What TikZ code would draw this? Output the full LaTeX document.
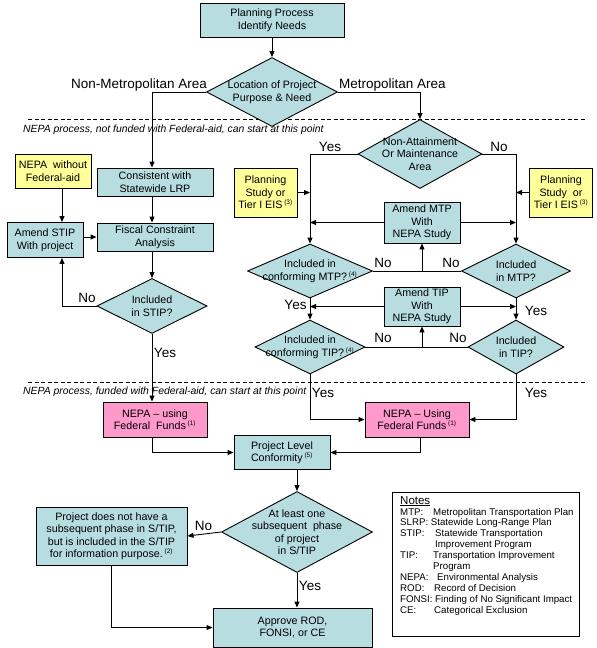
\documentclass[tikz,border=0pt]{standalone}
\usepackage{fontspec}
\setmainfont{Liberation Sans}
\usetikzlibrary{shapes.geometric,arrows.meta}
\definecolor{boxteal}{RGB}{183,221,225}
\definecolor{boxpink}{RGB}{255,153,204}
\definecolor{boxyellow}{RGB}{255,255,153}
\newcommand{\fnote}[1]{\textsuperscript{\fontsize{6.5pt}{7pt}\selectfont(#1)}}

\tikzset{
  flowbox/.style={draw=black, line width=0.9pt, fill=boxteal, align=center, inner sep=0pt, font=\fontsize{10.7pt}{12.5pt}\selectfont},
  nepabox/.style={flowbox, fill=boxpink},
  studybox/.style={flowbox, fill=boxyellow},
  decision/.style={diamond, draw=black, line width=0.9pt, fill=boxteal, inner sep=0pt},
  declabel/.style={align=center, inner sep=0pt, font=\fontsize{10.7pt}{12.5pt}\selectfont},
  branch/.style={inner sep=0pt, font=\fontsize{13.5pt}{15pt}\selectfont},
  phase/.style={inner sep=0pt, anchor=west, font=\fontsize{10.4pt}{12pt}\selectfont\itshape},
  conn/.style={line width=0.9pt, -{Triangle[length=6pt,width=5pt]}},
  plainline/.style={line width=0.9pt},
}

\begin{document}
\begin{tikzpicture}[x=1pt,y=1pt,yscale=-1,xscale=1]
\useasboundingbox (0,0) rectangle (597,648);

%Phase borders
\draw [plainline, dash pattern=on 4pt off 2.5pt] (28,119) -- (587,119);
\draw [plainline, dash pattern=on 4pt off 2.5pt] (28,382) -- (587,382);
\node [phase] (phaseA) at (23,130) {NEPA process, not funded with Federal-aid, can start at this point};
\node [phase] (phaseB) at (23,392) {NEPA process, funded with Federal-aid, can start at this point};

%Top
\node [flowbox, minimum width=144pt, minimum height=34pt] (plan) at (272,20) {Planning Process\\Identify Needs};
\node [decision, minimum width=131pt, minimum height=69pt, label={[declabel]center:{Location of Project\\Purpose \& Need}}] (loc) at (272,92) {};

%Non-metropolitan side
\node [studybox, minimum width=76pt, minimum height=34pt] (nepawo) at (53,171) {NEPA~ without\\Federal-aid};
\node [flowbox, minimum width=116pt, minimum height=28pt] (cons) at (155,182) {Consistent with\\Statewide LRP};
\node [flowbox, minimum width=76pt, minimum height=35pt] (amstip) at (45,240) {Amend STIP\\With project};
\node [flowbox, minimum width=116pt, minimum height=28pt] (fisc) at (155,237) {Fiscal Constraint\\Analysis};
\node [decision, minimum width=110pt, minimum height=55pt, label={[declabel]center:{Included\\in STIP?}}] (incstip) at (152,306) {};
\coordinate (colA) at (62,0);

%Metropolitan side
\node [decision, minimum width=124pt, minimum height=69pt, label={[declabel]center:{Non-Attainment\\Or Maintenance\\Area}}] (nonatt) at (420,154) {};
\node [studybox, minimum width=63pt, minimum height=49pt] (psl) at (265.5,192.5) {Planning\\Study or\\Tier I EIS\,\fnote{3}};
\node [studybox, minimum width=63pt, minimum height=49pt] (psr) at (561,192.5) {Planning\\Study~ or\\Tier I EIS\,\fnote{3}};
\node [flowbox, minimum width=76pt, minimum height=41pt] (ammtp) at (422,222.5) {Amend MTP\\With\\NEPA Study};
\node [decision, minimum width=125pt, minimum height=54pt, label={[declabel]center:{Included in\\conforming MTP?\,\fnote{4}}}] (incmtpc) at (310,271) {};
\node [decision, minimum width=109pt, minimum height=54pt, label={[declabel]center:{Included\\in MTP?}}] (incmtp) at (516,271) {};
\node [flowbox, minimum width=76pt, minimum height=39pt] (amtip) at (422,306.5) {Amend TIP\\With\\NEPA Study};
\node [decision, minimum width=110pt, minimum height=54pt, label={[declabel]center:{Included in\\conforming TIP?\,\fnote{4}}}] (inctipc) at (310,347) {};
\node [decision, minimum width=96pt, minimum height=54pt, label={[declabel]center:{Included\\in TIP?}}] (inctip) at (516,347) {};

%Federal funds
\node [nepabox, minimum width=104pt, minimum height=35pt] (nepal) at (155,419.5) {NEPA -- using\\Federal~ Funds\,\fnote{1}};
\node [nepabox, minimum width=104pt, minimum height=35pt] (nepar) at (417,419.5) {NEPA -- Using\\Federal Funds\,\fnote{1}};
\node [flowbox, minimum width=96pt, minimum height=34pt] (plc) at (282,452.5) {Project Level\\Conformity\,\fnote{5}};
\node [decision, minimum width=151pt, minimum height=81pt, label={[declabel]center:{At least one\\subsequent~ phase\\of project\\in S/TIP}}] (atleast) at (297,532) {};
\node [flowbox, minimum width=151pt, minimum height=58pt] (pdn) at (111.5,536) {Project does not have a\\subsequent phase in S/TIP,\\but is included in the S/TIP\\for information purpose.\,\fnote{2}};
\node [flowbox, minimum width=159pt, minimum height=39pt] (approve) at (292.5,627.5) {Approve ROD,\\FONSI, or CE};

%Notes
\node [draw=black, line width=0.9pt, fill=white, minimum width=187pt, minimum height=144pt, inner sep=0pt] (notes) at (486,564) {};
\node [anchor=north west, align=left, inner sep=0pt, font=\fontsize{9.7pt}{10.9pt}\selectfont] (notetext) at (400,496) {%
\underline{\fontsize{11.5pt}{11.5pt}\selectfont Notes}\\
\makebox[33pt][l]{MTP:}Metropolitan Transportation Plan\\
SLRP:\ Statewide Long-Range Plan\\
\makebox[35pt][l]{STIP:}Statewide Transportation\\
\hspace*{35pt}Improvement Program\\
\makebox[33pt][l]{TIP:}Transportation Improvement\\
\hspace*{33pt}Program\\
\makebox[37pt][l]{NEPA:}Environmental Analysis\\
\makebox[34pt][l]{ROD:}Record of Decision\\
FONSI: Finding of No Significant Impact\\
\makebox[34pt][l]{CE:}Categorical Exclusion};

% Text Node
\node [branch] (nonmetro) at (139,85) {Non-Metropolitan Area};
\node [branch] (metro) at (392.5,85) {Metropolitan Area};
\node [branch] (yesNA) at (330,147) {Yes};
\node [branch] (noNA) at (499,147) {No};
\node [branch] (noSTIP) at (87,298) {No};
\node [branch] (yesSTIP) at (165,353) {Yes};
\node [branch] (noMTPc) at (383,263) {No};
\node [branch] (noMTP) at (451,263) {No};
\node [branch] (yesMTPc) at (295.5,305) {Yes};
\node [branch] (yesMTP) at (536,311) {Yes};
\node [branch] (noTIPc) at (383,338) {No};
\node [branch] (noTIP) at (458,338) {No};
\node [branch] (yesTIPc) at (323,393) {Yes};
\node [branch] (yesTIP) at (536,393) {Yes};
\node [branch] (noAL) at (203.5,526) {No};
\node [branch] (yesAL) at (310,586) {Yes};

%Connectors
\draw [conn] (plan) -- (loc);
\draw [conn] (loc.west) -| (cons.north -| incstip.north);
\draw [conn] (loc.east) -| (nonatt.north);
\draw [conn] (nepawo.south -| colA) -- (amstip.north -| colA);
\draw [conn] (cons.south -| incstip.north) -- (fisc.north -| incstip.north);
\draw [conn] (amstip.east |- fisc.west) -- (fisc.west);
\draw [conn] (fisc.south -| incstip.north) -- (incstip.north);
\draw [conn] (incstip.west) -| (amstip.south -| colA);
\draw [conn] (incstip.south) -- (nepal.north -| incstip.south);

\draw [conn] (nonatt.west) -| (incmtpc.north);
\draw [conn] (nonatt.east) -| (incmtp.north);
\draw [conn] (psl.east) -- (psl.east -| incmtpc.north);
\draw [conn] (psr.west) -- (psr.west -| incmtp.north);
\draw [conn] (ammtp.west) -- (ammtp.west -| incmtpc.north);
\draw [conn] (ammtp.east) -- (ammtp.east -| incmtp.north);
\draw [plainline] (incmtpc.east) -- (incmtp.west);
\draw [conn] (ammtp.south |- incmtp.west) -- (ammtp.south);
\draw [conn] (incmtpc.south) -- (inctipc.north);
\draw [conn] (incmtp.south) -- (inctip.north);
\draw [conn] (amtip.west) -- (amtip.west -| inctipc.north);
\draw [conn] (amtip.east) -- (amtip.east -| inctip.north);
\draw [plainline] (inctipc.east) -- (inctip.west);
\draw [conn] (amtip.south |- inctip.west) -- (amtip.south);
\draw [conn] (inctipc.south) |- (nepar.west);
\draw [conn] (inctip.south) |- (nepar.east);

\draw [conn] (nepal.south -| incstip.south) |- (plc.west);
\draw [conn] (nepar.south -| nonatt.south) |- (plc.east);
\draw [conn] (plc.south -| atleast.north) -- (atleast.north);
\draw [conn] (atleast.west) -- (pdn.east);
\draw [conn] (atleast.south) -- (approve.north -| atleast.south);
\draw [conn] (pdn.south) |- (approve.west);

\end{tikzpicture}
\end{document}
